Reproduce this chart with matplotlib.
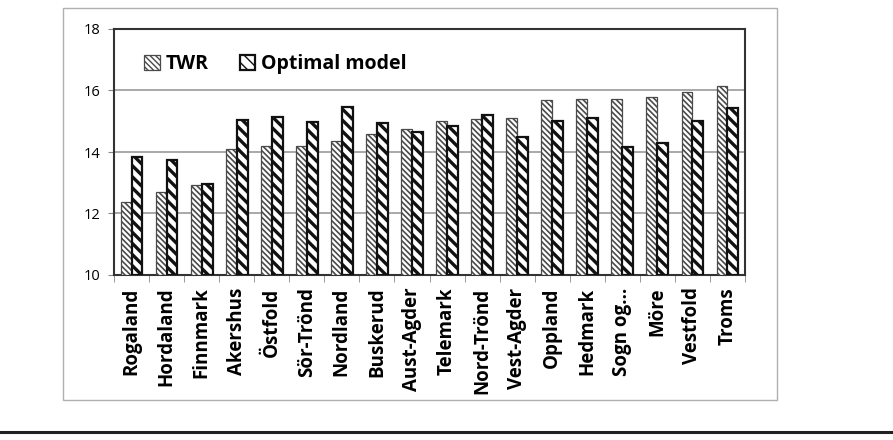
import matplotlib.pyplot as plt
import numpy as np
from matplotlib.patches import Rectangle
from matplotlib.lines import Line2D

counties = ['Rogaland', 'Hordaland', 'Finnmark', 'Akershus', 'Östfold', 'Sör-Trönd',
            'Nordland', 'Buskerud', 'Aust-Agder', 'Telemark', 'Nord-Trönd', 'Vest-Agder',
            'Oppland', 'Hedmark', 'Sogn og…', 'Möre', 'Vestfold', 'Troms']
twr = [12.38, 12.71, 12.93, 14.09, 14.18, 14.18, 14.37, 14.59, 14.74, 15.02,
       15.08, 15.12, 15.69, 15.73, 15.73, 15.78, 15.94, 16.16]
optimal = [13.85, 13.74, 12.95, 15.05, 15.13, 14.99, 15.47, 14.95, 14.66, 14.84,
           15.21, 14.49, 15.0, 15.1, 14.15, 14.29, 15.0, 15.44]
yticks = [10, 12, 14, 16, 18]

plt.rcParams['font.family'] = ['Open Sans', 'DejaVu Sans']

W, H = 893, 440
fig = plt.figure(figsize=(W / 100, H / 100), dpi=100)

# outer chart frame and bottom rule
fig.patches.append(Rectangle((63 / W, 1 - 400 / H), (777 - 63) / W, (400 - 8) / H,
                             transform=fig.transFigure, fill=False, edgecolor='#b0b0b0', lw=1))
fig.lines.append(Line2D([0, 1], [1 - 432 / H, 1 - 432 / H], transform=fig.transFigure,
                        color='#222222', lw=2.2))

ax = fig.add_axes([114 / W, 1 - 275 / H, (745 - 114) / W, (275 - 29) / H])

x = np.arange(len(counties))
bw = 0.31
b1 = ax.bar(x - bw / 2, [v - 10 for v in twr], bw, bottom=10, color='white',
            edgecolor='#4a4a4a', hatch='\\' * 6, lw=0.9, label='TWR', zorder=3)
b2 = ax.bar(x + bw / 2, [v - 10 for v in optimal], bw, bottom=10, color='white',
            edgecolor='#111111', hatch='\\' * 3, lw=1.6, label='Optimal model', zorder=3)
for p in b1:
    if hasattr(p, 'set_hatch_linewidth'):
        p.set_hatch_linewidth(1.2)
for p in b2:
    if hasattr(p, 'set_hatch_linewidth'):
        p.set_hatch_linewidth(2.4)

ax.set_ylim(10, 18)
ax.set_xlim(-0.5, len(counties) - 0.5)
ax.set_yticks(yticks)
ax.set_yticklabels([str(t) for t in yticks], fontsize=10.5)
ax.yaxis.grid(True, color='#9a9a9a', lw=1.2, zorder=0)
ax.set_xticks(x)
ax.set_xticklabels(counties, rotation=90, fontsize=13.5, fontweight='bold')
ax.set_xticks(np.arange(-0.5, len(counties)), minor=True)
ax.tick_params(axis='x', which='major', length=0, pad=9)
ax.tick_params(axis='x', which='minor', length=5, color='#888888')
ax.tick_params(axis='y', length=4, color='#888888', pad=6)
for s in ax.spines.values():
    s.set_color('#333333')
    s.set_linewidth(1.5)

leg = ax.legend(loc='upper left', bbox_to_anchor=(0.02, 0.97), ncol=2, frameon=False,
                prop={'weight': 'bold', 'size': 14}, handlelength=0.8, handleheight=0.8,
                handletextpad=0.3, columnspacing=1.6)

fig.savefig('out.png', dpi=100)
